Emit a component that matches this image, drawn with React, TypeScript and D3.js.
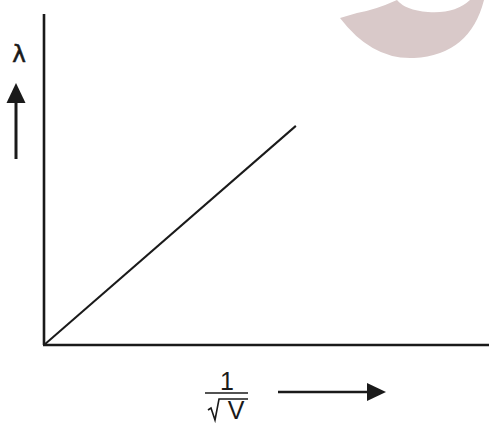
import React from "react";
import * as d3 from "d3";

const W = 489;
const H = 425;

// data: straight line through the origin (λ ∝ 1/√V)
const lineX = [0, 5.66];
const lineY = [0, 6.62];
const xDomain = [0, 10];
const yDomain = [0, 10];

const axisLabelY = "λ";
const axisLabelXNum = "1";
const axisLabelXDen = "V";

export default function App() {
  const x = d3.scaleLinear().domain(xDomain).range([44, 489]);
  const y = d3.scaleLinear().domain(yDomain).range([345, 14]);
  const pts: [number, number][] = lineX.map((v, i) => [v, lineY[i]]);
  const line = d3
    .line<[number, number]>()
    .x((d) => x(d[0]))
    .y((d) => y(d[1]));

  // watermark crescent (decoration)
  const wm = d3.path();
  wm.moveTo(340, 18);
  wm.quadraticCurveTo(372, 60, 414, 58);
  wm.quadraticCurveTo(470, 55, 484, 0);
  wm.lineTo(470, 0);
  wm.quadraticCurveTo(455, 14, 428, 12);
  wm.quadraticCurveTo(405, 10, 397, 0);
  wm.quadraticCurveTo(375, 10, 357, 13);
  wm.closePath();

  const font = "'Liberation Sans', Arial, sans-serif";
  const ink = "#1a1a1a";

  return (
    <svg
      width={W}
      height={H}
      style={{ position: "fixed", left: 0, top: 0, background: "#fff" }}
    >
      <path d={wm.toString()} fill="#d9c9c9" />
      {/* axes */}
      <line x1={x(0)} y1={y(0)} x2={x(0)} y2={y(10)} stroke={ink} strokeWidth={2.6} />
      <line x1={x(0) - 1} y1={y(0)} x2={x(10)} y2={y(0)} stroke={ink} strokeWidth={2.6} />
      {/* data line */}
      <path d={line(pts) || ""} fill="none" stroke={ink} strokeWidth={2} />

      {/* y label */}
      <text
        x={19}
        y={62}
        fontFamily="'DejaVu Sans', sans-serif"
        fontSize={23}
        textAnchor="middle"
        fill={ink}
        stroke={ink}
        strokeWidth={0.6}
      >
        {axisLabelY}
      </text>
      <line x1={16} y1={159} x2={16} y2={100} stroke={ink} strokeWidth={3} />
      <path d="M16,83 L25.5,103 L6.5,103 Z" fill={ink} />

      {/* x label: 1/√V */}
      <text x={227} y={390} fontFamily={font} fontSize={25} textAnchor="middle" fill={ink}>
        {axisLabelXNum}
      </text>
      <line x1={205} y1={393} x2={248} y2={393} stroke={ink} strokeWidth={1.5} />
      <path
        d="M208,410 L211,408 L215,420 L219,399 L248,399"
        fill="none"
        stroke={ink}
        strokeWidth={1.6}
      />
      <text x={236} y={419} fontFamily={font} fontSize={25} textAnchor="middle" fill={ink}>
        {axisLabelXDen}
      </text>
      <line x1={278} y1={392} x2={370} y2={392} stroke={ink} strokeWidth={2.6} />
      <path d="M386,392 L367,383 L367,401 Z" fill={ink} />
    </svg>
  );
}
